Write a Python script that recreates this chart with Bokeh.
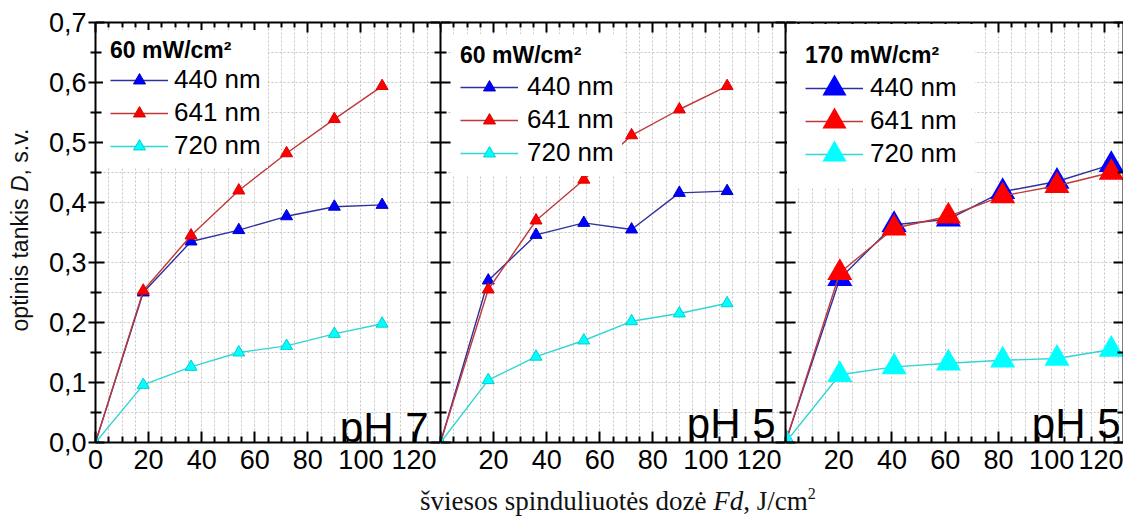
import math
from bokeh.plotting import figure
from bokeh.models import (FixedTicker, CustomJSTickFormatter, LinearAxis, Legend,
                          LegendItem, Label, Div, Range1d)
from bokeh.layouts import row, column
from bokeh.embed import file_html
from bokeh.resources import INLINE

# ---------------- data ----------------
dose_60 = [0, 18, 36, 54, 72, 90, 108]
dose_170 = [0, 20.4, 40.8, 61.2, 81.6, 102.0, 122.4]

ph7_60_440 = [0, 0.250, 0.335, 0.354, 0.377, 0.393, 0.396]
ph7_60_641 = [0, 0.253, 0.345, 0.420, 0.482, 0.539, 0.594]
ph7_60_720 = [0, 0.096, 0.126, 0.150, 0.161, 0.181, 0.198]

ph5_60_440 = [0, 0.270, 0.346, 0.366, 0.355, 0.416, 0.419]
ph5_60_641 = [0, 0.255, 0.370, 0.438, 0.512, 0.555, 0.594]
ph5_60_720 = [0, 0.104, 0.143, 0.170, 0.202, 0.215, 0.232]

ph5_170_440 = [0, 0.273, 0.363, 0.372, 0.418, 0.435, 0.463]
ph5_170_641 = [0, 0.283, 0.357, 0.377, 0.411, 0.428, 0.450]
ph5_170_720 = [0, 0.113, 0.126, 0.132, 0.137, 0.140, 0.155]

series_labels = ["440 nm", "641 nm", "720 nm"]
panel_titles = ["60 mW/cm\u00b2", "60 mW/cm\u00b2", "170 mW/cm\u00b2"]
panel_ph = ["pH 7", "pH 5", "pH 5"]

x_ticks = [0, 20, 40, 60, 80, 100, 120]
x_minor = [5, 10, 15, 25, 30, 35, 45, 50, 55, 65, 70, 75, 85, 90, 95, 105, 110, 115, 125, 130]
y_ticks = [0.0, 0.1, 0.2, 0.3, 0.4, 0.5, 0.6, 0.7]
y_minor = [0.05, 0.15, 0.25, 0.35, 0.45, 0.55, 0.65]

y_title_html = "optinis tankis <i>D</i>, s.v."
x_title_html = ("\u0161viesos spinduliuot\u0117s doz\u0117 <i>Fd</i>, J/cm"
                "<sup style=\"font-size:16px;line-height:0;vertical-align:11px\">2</sup>")

# ---------------- style ----------------
line_cols = ["#3030a0", "#c03838", "#30d5d5"]
fill_cols = ["#0000ff", "#ff0000", "#00ffff"]
edge_cols = ["#0000c0", "#d80000", "#00d0d0"]
SANS = "Liberation Sans"
FRAME_TOP = 22
FRAME_H = 420
Y_MAX = 0.7
GRID_COL = "#c4c4c4"
YLAB_W = 40


def style_axis(ax, ticks, minor, show_labels, code, tin, tout, mtin, mtout, standoff=2):
    ax.ticker = FixedTicker(ticks=ticks, minor_ticks=minor)
    ax.axis_line_color = "black"
    ax.axis_line_width = 2
    ax.major_tick_line_color = "black"
    ax.major_tick_line_width = 2
    ax.minor_tick_line_color = "black"
    ax.minor_tick_line_width = 2
    ax.major_tick_in = tin
    ax.major_tick_out = tout
    ax.minor_tick_in = mtin
    ax.minor_tick_out = mtout
    if show_labels:
        ax.formatter = CustomJSTickFormatter(code=code)
        ax.major_label_text_font = SANS
        ax.major_label_text_font_size = "27px"
        ax.major_label_text_color = "black"
        ax.major_label_standoff = standoff
    else:
        ax.formatter = CustomJSTickFormatter(code="return '';")
        ax.major_label_text_font_size = "0px"
        ax.major_label_standoff = 0


def make_panel(idx, xs, ys_list, x_end, frame_w, first, big, leg_cfg, ph_px):
    p = figure(frame_width=frame_w, frame_height=FRAME_H,
               x_range=Range1d(0, x_end), y_range=Range1d(0, Y_MAX),
               output_backend="svg", toolbar_location=None,
               min_border=0, min_border_left=(95 - YLAB_W) if first else 0,
               min_border_right=0, min_border_top=FRAME_TOP, min_border_bottom=38,
               background_fill_color="white", border_fill_color="white")
    p.outline_line_color = None

    xfmt = ("return tick.toFixed(0);" if first else
            "return tick == 0 ? '' : tick.toFixed(0);")
    style_axis(p.xaxis[0], x_ticks, x_minor, True, xfmt, 11, 0, 6, 0, standoff=7)
    if first:
        style_axis(p.yaxis[0], y_ticks, y_minor, True,
                   "return tick.toFixed(1).replace('.', ',');", 9, 7, 6, 5, standoff=2)
    else:
        style_axis(p.yaxis[0], y_ticks, y_minor, False, "", 10, 0, 6, 0)
    top = LinearAxis()
    style_axis(top, x_ticks, x_minor, False, "", 10, 0, 5, 0)
    p.add_layout(top, "above")
    right = LinearAxis()
    style_axis(right, y_ticks, y_minor, False, "", 10, 0, 6, 0)
    p.add_layout(right, "right")

    for g in (p.xgrid[0], p.ygrid[0]):
        g.grid_line_color = GRID_COL
        g.grid_line_dash = "2 2"
        g.grid_line_width = 1
        g.minor_grid_line_color = GRID_COL
        g.minor_grid_line_dash = "2 2"
        g.minor_grid_line_width = 1

    items = []
    for k, ys in enumerate(ys_list):
        lr = p.line(xs, ys, line_color=line_cols[k], line_width=1.4)
        if big:
            # thick mitred outline gives large sharp triangles (also in the legend)
            sr = p.scatter(xs, ys, marker="triangle", size=13,
                           fill_color=fill_cols[k], line_color=fill_cols[k],
                           line_width=7, line_join="miter")
        else:
            sr = p.scatter(xs, ys, marker="triangle", size=12,
                           fill_color=fill_cols[k], line_color=edge_cols[k], line_width=1)
        items.append(LegendItem(label=series_labels[k], renderers=[lr, sr]))

    bw = leg_cfg["bw"]
    leg = Legend(items=items, location="top_left", title=panel_titles[idx],
                 title_text_font=SANS, title_text_font_style="bold",
                 title_text_font_size="23px", title_text_color="black",
                 label_text_font=SANS, label_text_font_size="26px",
                 label_text_color="black",
                 glyph_width=58, glyph_height=30, spacing=2,
                 padding=0, margin=leg_cfg["mar"],
                 title_standoff=leg_cfg["ts"], label_standoff=leg_cfg["ls"],
                 background_fill_color="white", background_fill_alpha=1.0,
                 border_line_color="white" if bw > 0 else None,
                 border_line_width=max(bw, 1), border_line_join="miter")
    p.add_layout(leg)

    # pH annotation (right edge px, baseline px -> data units)
    px_right, px_base, frame_x0 = ph_px
    lx = (px_right - frame_x0) / frame_w * x_end
    ly = (FRAME_TOP + FRAME_H - px_base) / FRAME_H * Y_MAX
    p.add_layout(Label(x=lx, y=ly, text=panel_ph[idx], text_align="right",
                       text_baseline="alphabetic", text_font=SANS,
                       text_font_size="42px", text_color="black"))
    return p


p1 = make_panel(0, dose_60, [ph7_60_440, ph7_60_641, ph7_60_720], 130, 345, True, False,
                dict(mar=8, bw=7, ts=0, ls=6), (428, 427, 95))
p2 = make_panel(1, dose_60, [ph5_60_440, ph5_60_641, ph5_60_720], 130, 345, False, False,
                dict(mar=12, bw=8, ts=2, ls=9), (775, 423, 440))
p3 = make_panel(2, dose_170, [ph5_170_440, ph5_170_641, ph5_170_720], 127, 338, False, True,
                dict(mar=2, bw=18, ts=3, ls=7), (1120, 423, 785))

ytitle = Div(text=('<div style="position:relative;width:40px;height:480px;">'
                   '<div style="position:absolute;left:20px;top:230px;'
                   'transform:translate(-50%,-50%) rotate(-90deg);white-space:nowrap;'
                   'font-family:\'Liberation Sans\';font-size:23px;line-height:24px;color:#111;">'
                   + y_title_html + '</div></div>'),
             width=YLAB_W, height=480, margin=0)

xtitle = Div(text=('<div style="margin-left:420px;margin-top:7px;font-family:\'Liberation Serif\';'
                   'font-size:27px;line-height:28px;white-space:nowrap;color:#111;">'
                   + x_title_html + '</div>'),
             width=1123, height=35, margin=0)

layout = column(row(ytitle, p1, p2, p3, spacing=0), xtitle, spacing=0)

open("out.html", "w").write(file_html(layout, INLINE))
